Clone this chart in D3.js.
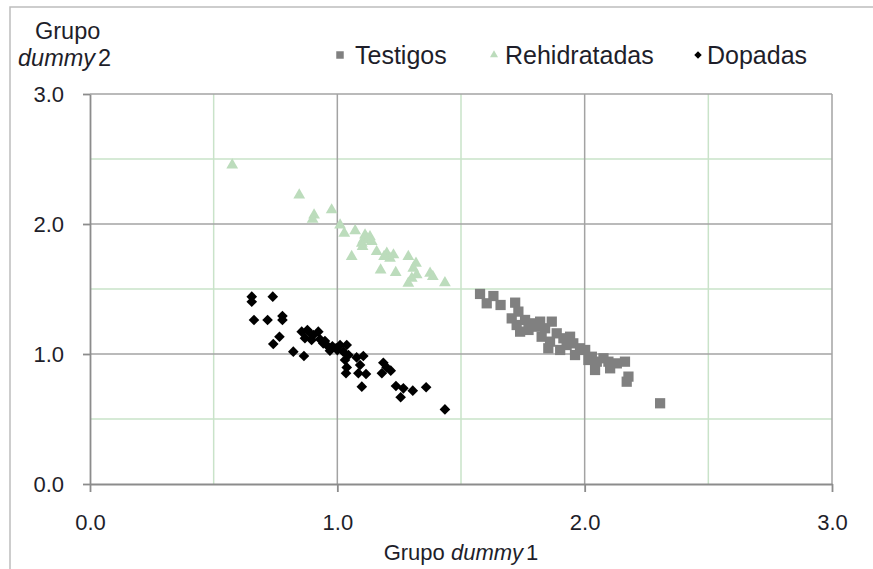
<!DOCTYPE html>
<html>
<head>
<meta charset="utf-8">
<script src="https://cdn.jsdelivr.net/npm/d3@7/dist/d3.min.js"></script>
<style>
  html, body { margin: 0; padding: 0; background: #fff; }
  svg { display: block; font-family: "Liberation Sans", Arial, sans-serif; }
</style>
</head>
<body>
<svg id="chart" width="873" height="569"></svg>
<script>
// Discriminant scores on the two dummy-group functions
const testigosX = [1.577, 1.631, 1.604, 1.660, 1.719, 1.732, 1.705, 1.725, 1.779, 1.806, 1.739, 1.773,
  1.867, 1.840, 1.826, 1.887, 1.860, 1.853, 1.914, 1.901, 1.941, 1.954, 1.961, 1.981, 2.002, 2.029,
  2.049, 2.042, 2.076, 2.103, 2.096, 2.130, 2.163, 2.177, 2.170, 2.305, 1.820, 1.759, 2.015, 1.927];
const testigosY = [1.462, 1.446, 1.390, 1.377, 1.395, 1.326, 1.274, 1.223, 1.236, 1.210, 1.172, 1.185,
  1.249, 1.198, 1.133, 1.159, 1.095, 1.044, 1.121, 1.031, 1.133, 1.082, 0.992, 1.044, 1.031, 0.979,
  0.941, 0.877, 0.967, 0.890, 0.941, 0.928, 0.941, 0.826, 0.787, 0.621, 1.249, 1.262, 0.954, 1.069];

const rehidratadasX = [0.575, 0.846, 0.906, 0.900, 0.977, 1.011, 1.028, 1.072, 1.119, 1.105, 1.132, 1.099,
  1.139, 1.112, 1.102, 1.159, 1.200, 1.227, 1.213, 1.189, 1.058, 1.287, 1.318, 1.307, 1.175, 1.236,
  1.321, 1.301, 1.287, 1.375, 1.386, 1.435];
const rehidratadasY = [2.454, 2.223, 2.069, 2.036, 2.108, 1.992, 1.928, 1.948, 1.890, 1.877, 1.902, 1.852,
  1.864, 1.915, 1.826, 1.787, 1.775, 1.762, 1.736, 1.749, 1.749, 1.749, 1.698, 1.659, 1.646, 1.626,
  1.608, 1.582, 1.544, 1.621, 1.595, 1.548];

const dopadasX = [0.654, 0.654, 0.739, 0.663, 0.718, 0.778, 0.778, 0.766, 0.741, 0.822, 0.865, 0.856,
  0.879, 0.903, 0.923, 0.869, 0.896, 0.930, 0.943, 0.964, 0.970, 0.995, 1.011, 1.038, 1.024, 1.045,
  1.031, 1.038, 1.035, 1.078, 1.105, 1.092, 1.085, 1.116, 1.099, 1.186, 1.199, 1.180, 1.216, 1.237,
  1.267, 1.256, 1.305, 1.359, 1.435, 0.890, 0.950, 0.980, 1.000];
const dopadasY = [1.441, 1.402, 1.441, 1.262, 1.262, 1.292, 1.262, 1.133, 1.077, 1.018, 0.985, 1.172,
  1.185, 1.146, 1.172, 1.121, 1.108, 1.113, 1.082, 1.056, 1.025, 1.044, 1.069, 1.069, 1.018, 0.992,
  0.954, 0.897, 0.852, 0.974, 0.985, 0.915, 0.852, 0.846, 0.749, 0.933, 0.897, 0.852, 0.872, 0.754,
  0.736, 0.667, 0.718, 0.744, 0.574, 1.160, 1.100, 1.060, 1.030];

const seriesNames = ["Testigos", "Rehidratadas", "Dopadas"];
const majorTicks = [0, 1, 2, 3];
const minorTicks = [0.5, 1.5, 2.5];

const svg = d3.select("#chart");
const textColor = "#1e1e2a";

// outer chart frame
svg.append("path")
  .attr("d", "M10,569 V7 H873")
  .attr("fill", "none").attr("stroke", "#bdbdbd").attr("stroke-width", 1.5);

const plot = { left: 90, right: 832, top: 94, bottom: 484 };
const x = d3.scaleLinear().domain([0, 3]).range([plot.left, plot.right]);
const y = d3.scaleLinear().domain([0, 3]).range([plot.bottom, plot.top]);

// gridlines: minor in pale green, major in grey
const grid = svg.append("g");
minorTicks.forEach(v => {
  grid.append("line").attr("x1", x(v)).attr("x2", x(v)).attr("y1", y(0)).attr("y2", y(3))
    .attr("stroke", "#c9e3c9").attr("stroke-width", 1.5);
  grid.append("line").attr("x1", x(0)).attr("x2", x(3)).attr("y1", y(v)).attr("y2", y(v))
    .attr("stroke", "#c9e3c9").attr("stroke-width", 1.5);
});
majorTicks.filter(v => v > 0).forEach(v => {
  grid.append("line").attr("x1", x(v)).attr("x2", x(v)).attr("y1", y(0)).attr("y2", y(3))
    .attr("stroke", "#a3a3a3").attr("stroke-width", 1.5);
  grid.append("line").attr("x1", x(0)).attr("x2", x(3)).attr("y1", y(v)).attr("y2", y(v))
    .attr("stroke", "#a3a3a3").attr("stroke-width", 1.5);
});

// axes
const fmt = d3.format(".1f");
const xAxis = svg.append("g").attr("transform", `translate(0,${plot.bottom})`)
  .call(d3.axisBottom(x).tickValues(majorTicks).tickSize(8).tickSizeOuter(0).tickPadding(22).tickFormat(fmt));
const yAxis = svg.append("g").attr("transform", `translate(${plot.left},0)`)
  .call(d3.axisLeft(y).tickValues(majorTicks).tickSize(7).tickSizeOuter(0).tickPadding(19).tickFormat(fmt));
[xAxis, yAxis].forEach(a => {
  a.select(".domain").attr("stroke", "#8c8c8c").attr("stroke-width", 1.8);
  a.selectAll(".tick line").attr("stroke", "#8c8c8c").attr("stroke-width", 1.8);
  a.selectAll(".tick text").attr("fill", textColor).attr("font-size", 22)
    .attr("font-family", "'Liberation Sans', Arial, sans-serif");
});
yAxis.selectAll(".tick text").attr("dy", "0.35em");

// series markers
const series = [
  { name: seriesNames[0], xs: testigosX, ys: testigosY, symbol: d3.symbolSquare, size: 105, color: "#808080" },
  { name: seriesNames[1], xs: rehidratadasX, ys: rehidratadasY, symbol: d3.symbolTriangle, size: 60, color: "#bcdcbc" },
  { name: seriesNames[2], xs: dopadasX, ys: dopadasY, symbol: d3.symbolDiamond2, size: 72, color: "#000000" }
];
series.forEach(s => {
  svg.append("g").selectAll("path")
    .data(s.xs.map((v, i) => [v, s.ys[i]]))
    .join("path")
    .attr("d", d3.symbol(s.symbol, s.size))
    .attr("transform", d => `translate(${x(d[0])},${y(d[1])})`)
    .attr("fill", s.color);
});

// legend
const legendPos = [
  { mx: 340, tx: 355 },
  { mx: 494, tx: 505 },
  { mx: 698, tx: 707 }
];
const legendSizes = [56, 28, 36];
series.forEach((s, i) => {
  svg.append("path")
    .attr("d", d3.symbol(s.symbol, legendSizes[i]))
    .attr("transform", `translate(${legendPos[i].mx},55)`)
    .attr("fill", s.color);
  svg.append("text").attr("x", legendPos[i].tx).attr("y", 64)
    .attr("font-size", 25).attr("fill", textColor).text(s.name);
});

// axis titles
const yTitle = svg.append("g").attr("fill", textColor).attr("font-size", 23.5);
yTitle.append("text").attr("x", 35).attr("y", 39).text("Grupo");
const yT2 = yTitle.append("text").attr("x", 18).attr("y", 66);
yT2.append("tspan").attr("font-style", "italic").text("dummy");
yT2.append("tspan").attr("dx", 3).text("2");

const xTitle = svg.append("text").attr("x", 461).attr("y", 560).attr("text-anchor", "middle")
  .attr("fill", textColor).attr("font-size", 22);
xTitle.append("tspan").text("Grupo ");
xTitle.append("tspan").attr("font-style", "italic").text("dummy");
xTitle.append("tspan").attr("dx", 3).text("1");
</script>
</body>
</html>
